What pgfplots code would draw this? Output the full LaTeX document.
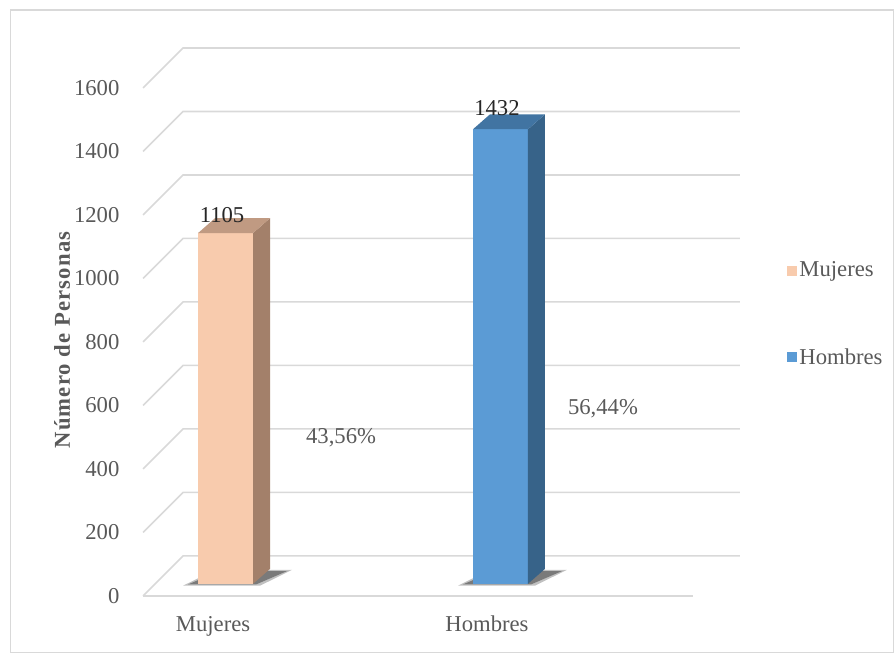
\documentclass[border=0pt]{standalone}
\usepackage{fontspec}
\setmainfont{Liberation Serif}
\usepackage{pgfplots}
\pgfplotsset{compat=1.18}
\definecolor{txt}{HTML}{595959}
\definecolor{grd}{HTML}{D9D9D9}
\definecolor{mf}{HTML}{F8CBAD}
\definecolor{ms}{HTML}{A3806A}
\definecolor{mt}{HTML}{C09A82}
\definecolor{hf}{HTML}{5B9BD5}
\definecolor{hs}{HTML}{376389}
\definecolor{ht}{HTML}{4174A2}
\begin{document}
\begin{tikzpicture}[font=\fontsize{17}{20}\selectfont]
\begin{axis}[
  x=0.75pt, y=0.238125pt, scale only axis,
  xmin=0, xmax=896, ymin=-185.8, ymax=1877.2,
  clip=false, axis line style={draw=none},
  xtick=\empty, ytick={0,200,...,1600}, major tick length=0pt,
  yticklabel style={xshift=93pt, text=txt},
  /pgf/number format/assume math mode=true,
  /pgf/number format/1000 sep={},
  legend style={at={(axis cs:783,888)}, anchor=west, draw=none, fill=none,
    row sep=48pt, text=txt, font=\fontsize{17}{20}\selectfont},
  legend cell align=left,
  legend image code/.code={\fill[#1] (0pt,-3.4pt) rectangle (6.8pt,3.4pt);},
]
\path (rel axis cs:0,0) rectangle (rel axis cs:1,1);
% frame
\addplot[grd, line width=0.8pt, forget plot] coordinates {(10,1845.7) (894,1845.7) (894,-179.5) (10,-179.5) (10,1845.7)};
% grid: diagonals and back wall
\pgfplotsinvokeforeach{0,200,...,1600}{
  \addplot[grd, line width=1.2pt, forget plot] coordinates {(143,#1) (183,#1+126) (740,#1+126)};
}
\addplot[grd, line width=1.2pt, forget plot] coordinates {(143,0) (693,0)};
% shadows
\addplot[fill=black!70, draw=none, opacity=0.35, forget plot] coordinates {(183,32) (260,32) (292,82) (215,82)};
\addplot[fill=black!75, draw=none, opacity=0.55, forget plot] coordinates {(188,36) (256,36) (287,78) (219,78)};
\addplot[fill=black!70, draw=none, opacity=0.35, forget plot] coordinates {(458,32) (535,32) (567,82) (490,82)};
\addplot[fill=black!75, draw=none, opacity=0.55, forget plot] coordinates {(463,36) (531,36) (562,78) (494,78)};
% Mujeres bar (1105)
\addplot[fill=mf, draw=none, forget plot] coordinates {(198,38) (253,38) (253,1143) (198,1143)};
\addplot[fill=ms, draw=none, forget plot] coordinates {(253,38) (270,85) (270,1190) (253,1143)};
\addplot[fill=mt, draw=none, forget plot] coordinates {(198,1143) (253,1143) (270,1190) (215,1190)};
% Hombres bar (1432)
\addplot[fill=hf, draw=none, forget plot] coordinates {(473,38) (528,38) (528,1470) (473,1470)};
\addplot[fill=hs, draw=none, forget plot] coordinates {(528,38) (545,85) (545,1517) (528,1470)};
\addplot[fill=ht, draw=none, forget plot] coordinates {(473,1470) (528,1470) (545,1517) (490,1517)};
% labels
\node[text=black!85] at (axis cs:222,1200) {1105};
\node[text=black!85] at (axis cs:497,1537) {1432};
\node[text=txt] at (axis cs:341,498) {43,56\%};
\node[text=txt] at (axis cs:603,589) {56,44\%};
\node[text=txt, anchor=base] at (axis cs:213,-111) {Mujeres};
\node[text=txt, anchor=base] at (axis cs:487,-111) {Hombres};
\node[text=txt, rotate=90, font=\fontsize{17}{20}\selectfont\bfseries\addfontfeatures{LetterSpace=5}] at (axis cs:62,806) {Número de Personas};
% legend
\addlegendimage{mf}
\addlegendentry{Mujeres}
\addlegendimage{hf}
\addlegendentry{Hombres}
\end{axis}
\end{tikzpicture}
\end{document}
